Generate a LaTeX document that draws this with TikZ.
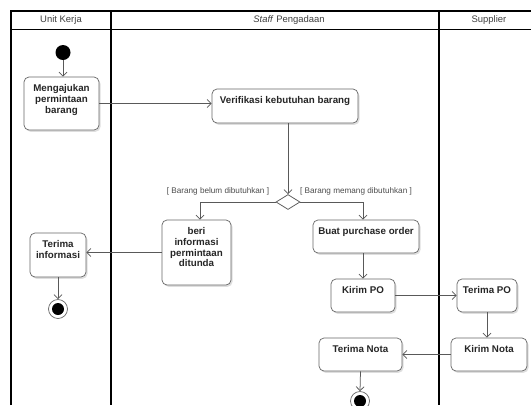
\documentclass[tikz,border=0pt]{standalone}
\usepackage{fontspec}
\setmainfont{Liberation Sans}
\usetikzlibrary{arrows.meta,shapes.geometric,shadows}
\newcommand{\acttext}[3]{\begin{minipage}[c][#2][t]{#1}\centering\vspace*{7.5bp}#3\end{minipage}}
\begin{document}
\begin{tikzpicture}[x=1bp,y=-1bp,
  act/.style={draw=black!60, line width=0.7bp, rounded corners=5bp, fill=white, inner sep=0pt,
    drop shadow={shadow xshift=1.5bp, shadow yshift=-1.8bp, fill=black!25, opacity=0.5},
    font=\fontsize{9.8}{10.8}\selectfont\bfseries, text=black!85},
  flow/.style={draw=black!65, line width=0.75bp, -{Straight Barb[length=4bp,width=8bp]}},
  lane/.style={line width=1.1bp, draw=black},
  hdr/.style={font=\fontsize{9.5}{11}\selectfont, text=black!75, inner sep=1bp},
  guard/.style={font=\fontsize{8.2}{10}\selectfont, text=black!70, inner sep=1bp},
  startdot/.style={circle, fill=black, minimum size=15bp, inner sep=0pt},
  enddot/.style={circle, draw=black!60, line width=0.7bp, fill=white, minimum size=19bp, inner sep=0pt,
    path picture={\fill[black] (path picture bounding box.center) circle (6bp);}},
  decide/.style={diamond, draw=black!65, line width=0.75bp, fill=white, minimum width=24bp, minimum height=15bp, inner sep=0pt}
]
\useasboundingbox[fill=white] (0,0) rectangle (531,405);

% swimlanes
\draw[lane] (11,405) -- (11,11) -- (531,11);
\draw[lane] (11,29.5) -- (531,29.5);
\draw[lane] (111,11) -- (111,405);
\draw[lane] (439,11) -- (439,405);
\node[hdr] (h1) at (61,20.5) {Unit Kerja};
\node[hdr] (h2) at (289,20.5) {\textit{Staff} Pengadaan};
\node[hdr] (h3) at (489,20.5) {Supplier};

% nodes
\node[startdot] (s) at (63,52.5) {};
\node[act] (m) at (61.5,103.5) {\acttext{75bp}{53bp}{Mengajukan\\permintaan\\barang}};
\node[act] (v) at (285,106) {\acttext{146bp}{34bp}{Verifikasi kebutuhan barang}};
\node[decide] (d) at (288,202) {};
\node[guard] (g1) at (218,191) {[ Barang belum dibutuhkan ]};
\node[guard] (g2) at (356,191) {[ Barang memang dibutuhkan ]};
\node[act] (b) at (196.5,252.5) {\acttext{69bp}{65bp}{beri\\informasi\\permintaan\\ditunda}};
\node[act] (p) at (366,236.5) {\acttext{106bp}{33bp}{Buat purchase order}};
\node[act] (ti) at (58,255) {\acttext{56bp}{44bp}{Terima\\informasi}};
\node[enddot] (e1) at (58,309) {};
\node[act] (kpo) at (363,295.5) {\acttext{64bp}{33bp}{Kirim PO}};
\node[act] (tpo) at (487,295.5) {\acttext{60bp}{33bp}{Terima PO}};
\node[act] (kn) at (489,354.5) {\acttext{76bp}{33bp}{Kirim Nota}};
\node[act] (tn) at (360.5,354.5) {\acttext{83bp}{33bp}{Terima Nota}};
\node[enddot] (e2) at (360,401) {};

% connectors
\draw[flow] (s) -- (s |- m.north);
\draw[flow] (m.east) -- (m.east -| v.west);
\draw[flow] (d.north |- v.south) -- (d.north);
\draw[flow] (d.west) -| ([xshift=3.5bp]b.north);
\draw[flow] (d.east) -| ([xshift=-3bp]p.north);
\draw[flow] (b.west) -- (b.west -| ti.east);
\draw[flow] (ti.south) -- (e1.north);
\draw[flow] (kpo.north |- p.south) -- (kpo.north);
\draw[flow] (kpo.east) -- (kpo.east -| tpo.west);
\draw[flow] (tpo.south) -- (tpo.south |- kn.north);
\draw[flow] (kn.west) -- (kn.west -| tn.east);
\draw[flow] (tn.south) -- (e2.north);
\end{tikzpicture}
\end{document}
